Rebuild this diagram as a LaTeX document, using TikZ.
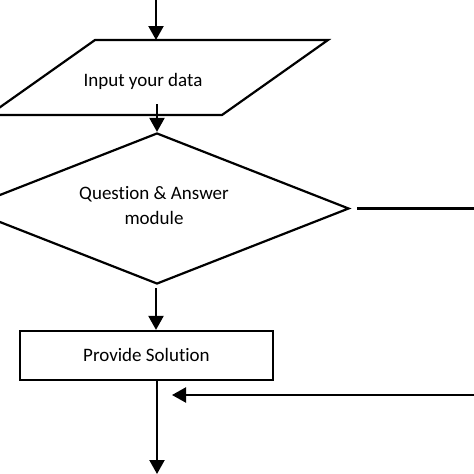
\documentclass[tikz,border=0pt]{standalone}
\usepackage{fontspec}
\setmainfont{Carlito}[Ligatures=NoCommon]
\usetikzlibrary{arrows.meta,shapes.geometric}
\begin{document}
\begin{tikzpicture}[x=1pt,y=-1pt,
  line width=2.2pt,
  arr/.style={-{Triangle[length=14pt,width=15pt]}},
  lbl/.style={font=\fontsize{19}{25}\selectfont, align=center, inner sep=0pt},
  decision/.style={diamond, draw, aspect=2.54, minimum width=384pt, minimum height=151pt, inner sep=0pt},
  process/.style={rectangle, draw, minimum width=253pt, minimum height=49pt, inner sep=0pt}]
\useasboundingbox (0,0) rectangle (474,474);
\clip (0,0) rectangle (474,474);
\fill[white] (0,0) rectangle (474,474);
% parallelogram
\draw[line join=miter] (95,40) -- (328,40) -- (222,115) -- (-11,115) -- cycle;
\node[lbl] (input) at (143,81) {Input your data};
\coordinate (start) at (156,-2);
\coordinate (inTop) at (156,40);
\coordinate (inOut) at (157,104);
% decision
\node[decision] (qa) at (157,208.5) {};
\node[lbl] (qatext) at (154,206) {Question \& Answer\\module};
% process
\node[process] (sol) at (146.5,355.5) {};
\node[lbl] (soltext) at (146.5,355) {Provide Solution};
\coordinate (qaOut) at (156,288);
\coordinate (solOut) at (157,380);
\coordinate (endp) at (157,474);
\coordinate (rStart) at (357,208.5);
\coordinate (rEnd) at (476,208.5);
\coordinate (back) at (476,395);
\coordinate (backEnd) at (172,395);
% connectors
\draw[arr] (start) -- (inTop);
\draw[arr] (inOut) -- (qa.north);
\draw[arr] (qaOut) -- (sol.north -| qaOut);
\draw[arr] (solOut) -- (endp);
\draw (rStart) -- (rEnd);
\draw[arr] (back) -- (backEnd);
\end{tikzpicture}
\end{document}
